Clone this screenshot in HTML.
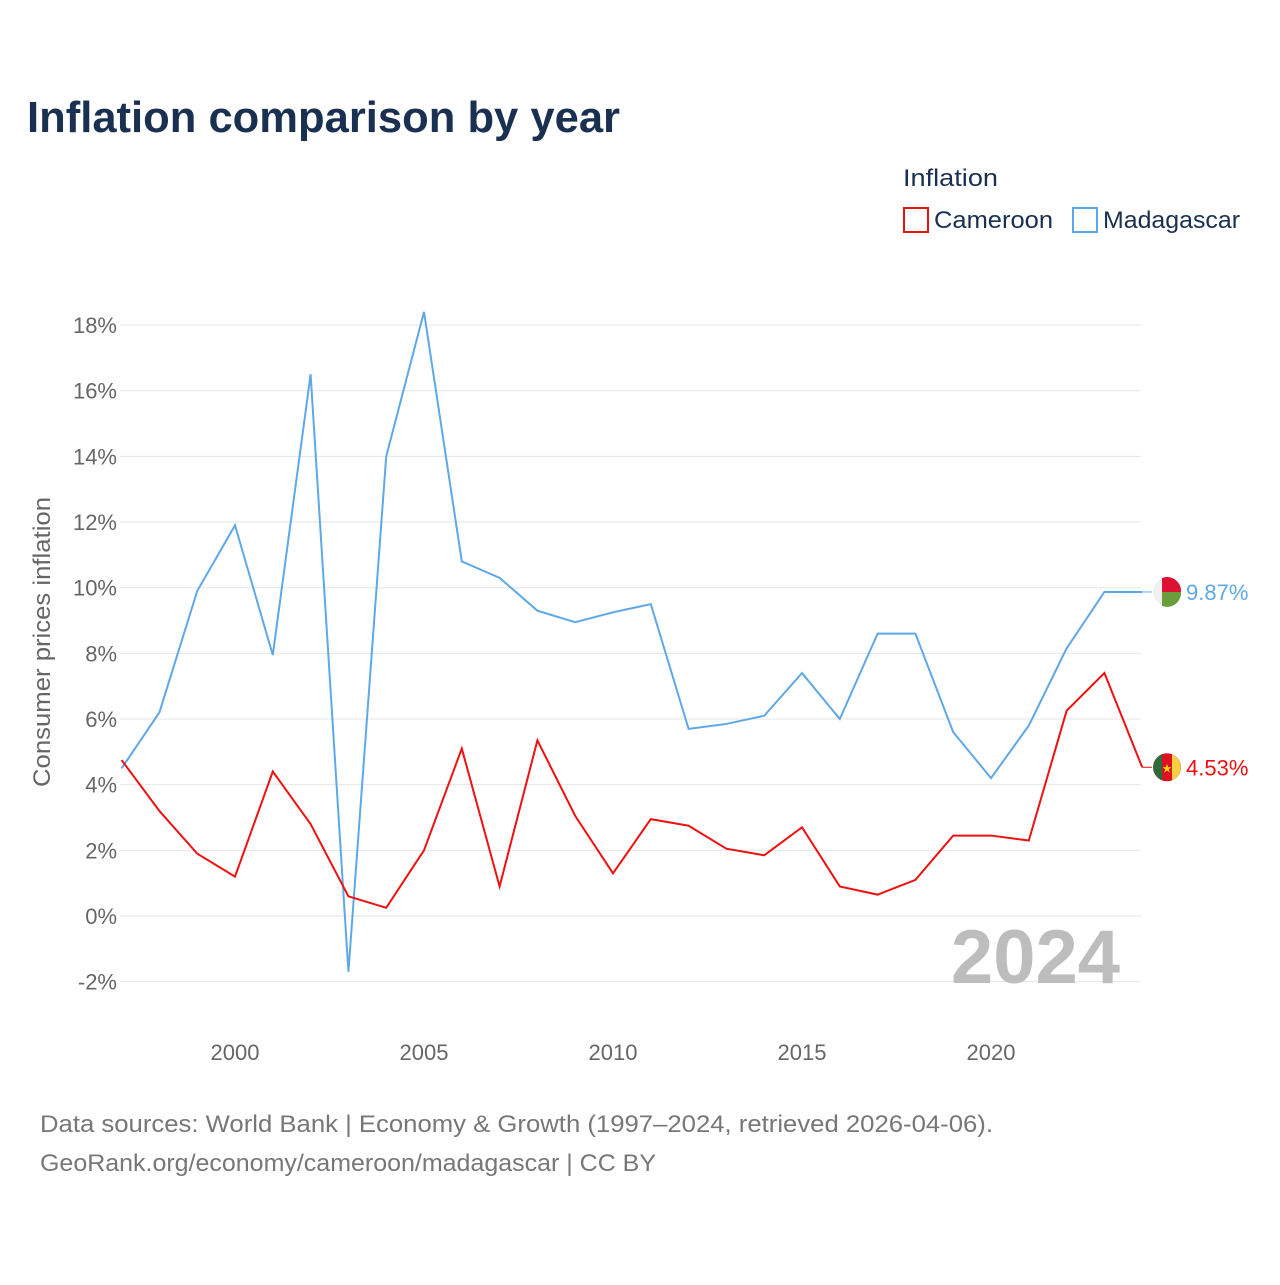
<!DOCTYPE html>
<html><head><meta charset="utf-8">
<style>
body{margin:0;background:#fff;font-family:"Liberation Sans",sans-serif;}
svg text{font-family:"Liberation Sans",sans-serif;}
</style></head>
<body>
<svg width="1280" height="1280" viewBox="0 0 1280 1280" xmlns="http://www.w3.org/2000/svg">
<text x="27" y="132" font-size="44" font-weight="bold" fill="#1a3050" textLength="593" lengthAdjust="spacingAndGlyphs">Inflation comparison by year</text>
<g>
<text x="903" y="186" font-size="24" fill="#1a3050" textLength="95" lengthAdjust="spacingAndGlyphs">Inflation</text>
<g><rect x="904" y="208" width="24" height="24" fill="none" stroke="#ee1111" stroke-width="2"/><text x="934" y="228" font-size="24" fill="#1a3050" textLength="119" lengthAdjust="spacingAndGlyphs">Cameroon</text></g>
<g><rect x="1073" y="208" width="24" height="24" fill="none" stroke="#5fa8e8" stroke-width="2"/><text x="1103" y="228" font-size="24" fill="#1a3050" textLength="137" lengthAdjust="spacingAndGlyphs">Madagascar</text></g>
</g>
<g id="grid"></g>
<g id="yticks"></g>
<g id="xticks"></g>
<text transform="translate(50,642) rotate(-90)" text-anchor="middle" font-size="24" fill="#666" textLength="290" lengthAdjust="spacingAndGlyphs">Consumer prices inflation</text>
<text x="1120" y="983" text-anchor="end" font-size="76" font-weight="bold" fill="#bdbdbd">2024</text>
<g id="series"></g>
<text x="40" y="1132" font-size="24" fill="#777" textLength="953" lengthAdjust="spacingAndGlyphs">Data sources: World Bank | Economy &amp; Growth (1997–2024, retrieved 2026-04-06).</text>
<text x="40" y="1171" font-size="24" fill="#777" textLength="616" lengthAdjust="spacingAndGlyphs">GeoRank.org/economy/cameroon/madagascar | CC BY</text>
</svg>
<script>
const years=[1997,1998,1999,2000,2001,2002,2003,2004,2005,2006,2007,2008,2009,2010,2011,2012,2013,2014,2015,2016,2017,2018,2019,2020,2021,2022,2023,2024];
const madagascar=[4.5,6.2,9.9,11.9,7.95,16.5,-1.7,14.0,18.4,10.8,10.3,9.3,8.95,9.25,9.5,5.7,5.85,6.1,7.4,6.0,8.6,8.6,5.6,4.2,5.8,8.15,9.87,9.87];
const cameroon=[4.75,3.2,1.9,1.2,4.4,2.8,0.6,0.25,2.0,5.1,0.9,5.35,3.05,1.3,2.95,2.75,2.05,1.85,2.7,0.9,0.65,1.1,2.45,2.45,2.3,6.25,7.4,4.53];
const yTicks=[-2,0,2,4,6,8,10,12,14,16,18];
const xTicks=[2000,2005,2010,2015,2020];
const NS="http://www.w3.org/2000/svg";
const x=v=>121.6+(v-1997)*37.8;
const y=v=>916-v*32.83;
function mk(t,a,p){const e=document.createElementNS(NS,t);for(const k in a)e.setAttribute(k,a[k]);p.appendChild(e);return e;}
const grid=document.getElementById('grid'),yt=document.getElementById('yticks'),xt=document.getElementById('xticks'),ser=document.getElementById('series');
yTicks.forEach(v=>{
 const l=mk('line',{x1:120,x2:1141,y1:y(v),y2:y(v),stroke:'#e6e6e6','stroke-width':1},grid);
 
 
 const t=mk('text',{x:117,y:y(v)+8,'text-anchor':'end','font-size':22,fill:'#666'},yt);
 t.textContent=v+'%';
 
 
});
xTicks.forEach(v=>{
 const t=mk('text',{x:x(v),y:1060,'text-anchor':'middle','font-size':22,fill:'#666'},xt);
 t.textContent=v;
 
 
});
function line(vals,color,name){
 const p=mk('polyline',{points:vals.map((v,i)=>x(years[i])+','+y(v)).join(' '),fill:'none',stroke:color,'stroke-width':2},ser);
 
 
 const last=vals[vals.length-1],ly=y(last);
 mk('line',{x1:x(2024),x2:1152,y1:ly,y2:ly,stroke:color,'stroke-width':1},ser);
 const t=mk('text',{x:1186,y:ly+8,'font-size':22,fill:color},ser);
 t.textContent=last.toFixed(2)+'%';
 
 
 return ly;
}
const my=line(madagascar,'#5fa8e8','madagascar-line');
const cy=line(cameroon,'#ee1111','cameroon-line');
const fm=mk('g',{},ser);


mk('circle',{cx:1167,cy:my,r:14,fill:'#f0f0f0'},fm);
mk('path',{d:`M1162 ${my-14} A14 14 0 0 1 1181 ${my} L1162 ${my} Z`,fill:'#dd1133'},fm);
mk('path',{d:`M1162 ${my} L1181 ${my} A14 14 0 0 1 1162 ${my+14} Z`,fill:'#6a9e3a'},fm);
const fc=mk('g',{},ser);


mk('circle',{cx:1167,cy:cy,r:14,fill:'#dd1122'},fc);
mk('path',{d:`M1162 ${cy-13} A14 14 0 0 0 1162 ${cy+13} Z`,fill:'#2e6b3a'},fc);
mk('path',{d:`M1172 ${cy-13} A14 14 0 0 1 1172 ${cy+13} Z`,fill:'#f5d040'},fc);
mk('text',{x:1167,y:cy+5,'text-anchor':'middle','font-size':12,fill:'#ffd700'},fc).textContent='★';
</script>
</body></html>
